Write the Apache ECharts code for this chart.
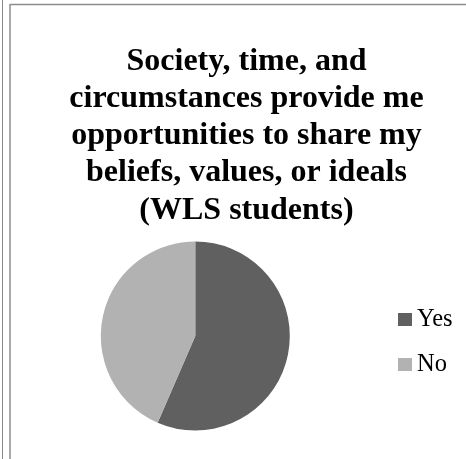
<!DOCTYPE html>
<html>
<head>
<meta charset="utf-8">
<script src="https://cdn.jsdelivr.net/npm/echarts@6/dist/echarts.min.js"></script>
<style>
html,body{margin:0;padding:0;background:#fff;}
#main{width:466px;height:459px;}
</style>
</head>
<body>
<div id="main"></div>
<script>
var titleText = "Society, time, and\ncircumstances provide me\nopportunities to share my\nbeliefs, values, or ideals\n(WLS students)";
var categories = ["Yes", "No"];
var values = [13, 10];
var colors = ["#606060", "#b2b2b2"];
var serif = "'Times New Roman', 'Liberation Serif', Times, serif";

var chart = echarts.init(document.getElementById('main'), null, {renderer: 'canvas'});
chart.setOption({
  animation: false,
  backgroundColor: '#ffffff',
  title: {
    text: titleText,
    left: 241.5,
    textAlign: 'center',
    top: 38,
    textStyle: {
      fontFamily: serif,
      fontWeight: 'bold',
      fontSize: 32,
      lineHeight: 37.2,
      color: '#000'
    }
  },
  legend: {
    orient: 'vertical',
    left: 393,
    top: 302,
    itemWidth: 14,
    itemHeight: 13,
    itemGap: 20,
    icon: 'rect',
    textStyle: {
      fontFamily: serif,
      fontSize: 24.5,
      color: '#000'
    },
    data: categories
  },
  graphic: [
    {type: 'line', shape: {x1: 2.5, y1: 0, x2: 2.5, y2: 459}, style: {stroke: '#8c8c8c', lineWidth: 1}},
    {type: 'line', shape: {x1: 10, y1: 4.5, x2: 466, y2: 4.5}, style: {stroke: '#8c8c8c', lineWidth: 1.5}},
    {type: 'line', shape: {x1: 10, y1: 4, x2: 10, y2: 459}, style: {stroke: '#8c8c8c', lineWidth: 1.5}}
  ],
  series: [{
    type: 'pie',
    center: [195.3, 336],
    radius: 94.5,
    startAngle: 90,
    clockwise: true,
    label: {show: false},
    labelLine: {show: false},
    emphasis: {disabled: true},
    itemStyle: {borderWidth: 0},
    data: categories.map(function (c, i) {
      return {name: c, value: values[i], itemStyle: {color: colors[i]}};
    })
  }]
});
</script>
</body>
</html>
